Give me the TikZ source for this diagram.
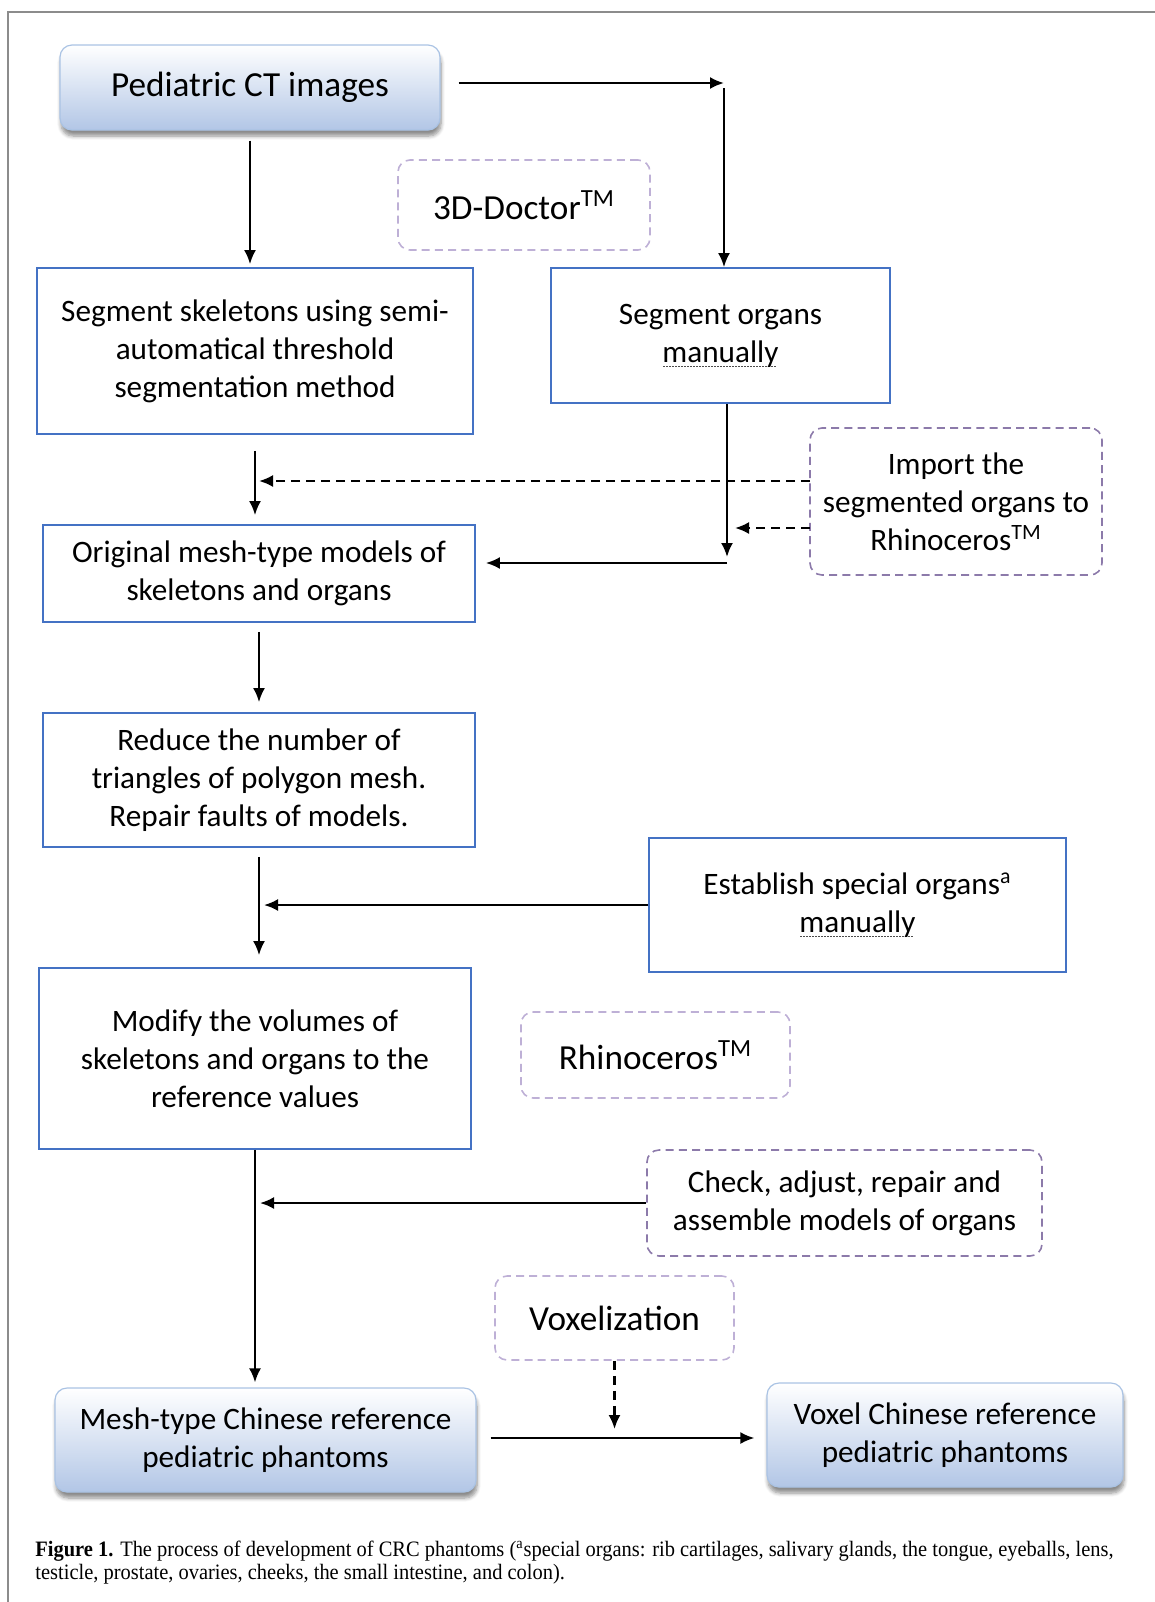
\documentclass[tikz,border=0pt]{standalone}
\usepackage{fontspec}
\setmainfont{Carlito}
\newfontfamily\capfont[FakeStretch=0.93]{Liberation Serif}
\usetikzlibrary{arrows.meta,positioning,shadows.blur}
\definecolor{boxblue}{RGB}{68,114,196}
\definecolor{gradblue}{RGB}{178,198,230}
\definecolor{gradedge}{RGB}{170,195,228}
\definecolor{dashlight}{RGB}{190,176,214}
\definecolor{dashdark}{RGB}{140,122,170}
\definecolor{framegray}{RGB}{140,140,140}
\newcommand{\tm}{\textsuperscript{TM}}
\newcommand{\dotunder}[1]{\leavevmode\setbox0\hbox{#1}%
  \rlap{\raisebox{-2.6pt}{\color{black!70}\hbox to \wd0{\leaders\hbox to 1.5pt{\hss\rule{0.75pt}{0.5pt}\hss}\hfill}}}\box0}
\newcommand{\manual}{\dotunder{manually}}

\begin{document}
\begin{tikzpicture}[x=0.5pt,y=-0.5pt,>={Latex[length=7pt,width=6pt]},
every node/.style={inner sep=0pt,align=center},
txt/.style={font=\fontsize{15.6}{19}\selectfont},
big/.style={font=\fontsize{17.6}{21}\selectfont},
stepbox/.style={txt,draw=boxblue,line width=0.9pt},
endbox/.style={draw=gradedge,line width=0.6pt,rounded corners=6pt,top color=white,bottom color=gradblue,
  blur shadow={shadow xshift=0.5pt,shadow yshift=-3pt,shadow blur steps=6,shadow opacity=45}},
tool/.style={draw=dashlight,dash pattern=on 4pt off 2.6pt,line width=0.8pt,rounded corners=6pt},
arr/.style={->,line width=1.1pt},
darr/.style={->,line width=1.1pt,dash pattern=on 4.5pt off 3pt}]
\useasboundingbox (0,0) rectangle (1155,1602);
\draw[framegray,line width=1pt] (8,1602) -- (8,12) -- (1155,12);

% boxes
\node[endbox,big,minimum width=190pt,minimum height=42.5pt] (ped) at (250,87.5) {Pediatric CT images};
\node[tool,big,minimum width=126pt,minimum height=45pt] (doc) at (524,205) {3D-Doctor\tm};
\node[stepbox,minimum width=218pt,minimum height=83pt] (skel) at (255,351) {Segment skeletons using semi-\\automatical threshold\\segmentation method};
\node[stepbox,minimum width=169.5pt,minimum height=67.5pt] (organ) at (720.5,335.5) {Segment organs\\\manual};
\node[tool,txt,draw=dashdark,minimum width=146pt,minimum height=73.5pt] (imp) at (956,501.5) {Import the\\segmented organs to\\Rhinoceros\tm};
\node[stepbox,minimum width=216pt,minimum height=48.5pt] (orig) at (259,573.5) {Original mesh-type models of\\skeletons and organs};
\node[stepbox,minimum width=216pt,minimum height=67pt] (red) at (259,780) {Reduce the number of\\triangles of polygon mesh.\\Repair faults of models.};
\node[stepbox,minimum width=208.5pt,minimum height=67pt] (est) at (857.5,905) {Establish special organs\textsuperscript{a}\\\manual};
\node[stepbox,minimum width=216pt,minimum height=90.5pt] (mod) at (255,1058.5) {Modify the volumes of\\skeletons and organs to the\\reference values};
\node[tool,big,minimum width=134.5pt,minimum height=43pt] (rhino) at (655.5,1055) {Rhinoceros\tm};
\node[tool,txt,draw=dashdark,minimum width=197.5pt,minimum height=53pt] (chk) at (844.5,1203) {Check, adjust, repair and\\assemble models of organs};
\node[tool,big,minimum width=119.5pt,minimum height=42pt] (voxz) at (614.5,1318) {Voxelization};
\node[endbox,txt,minimum width=210.5pt,minimum height=52pt] (mesh) at (265.5,1440) {Mesh-type Chinese reference\\pediatric phantoms};
\node[endbox,txt,minimum width=178pt,minimum height=52pt] (vox) at (945,1435) {Voxel Chinese reference\\pediatric phantoms};

% connectors
\coordinate (c1) at (724,83);
\coordinate (j1) at (727,563);
\coordinate (j2) at (611,1438);
\coordinate (d1) at (810,481);
\coordinate (d2) at (810,528);
\draw[arr,shorten <=9pt] (ped.east |- c1) -- (c1);
\draw[arr,shorten <=2.5pt] (c1) -- (c1 |- organ.north);
\draw[arr,shorten <=5pt,shorten >=1.5pt] (ped.south) -- (ped.south |- skel.north);
\draw[arr,shorten >=3pt] (organ.south -| j1) -- (j1);
\draw[arr,shorten >=5pt] (j1) -- (j1 -| orig.east);
\draw[darr,shorten >=2pt] (d1) -- (d1 -| skel.south);
\draw[darr,shorten >=4pt] (d2) -- (d2 -| j1);
\draw[arr,shorten <=8pt,shorten >=4.5pt] (skel.south) -- (skel.south |- orig.north);
\draw[arr,shorten <=4.5pt,shorten >=5pt] (orig.south) -- (orig.south |- red.north);
\draw[arr,shorten <=4.5pt,shorten >=6pt] (red.south) -- (red.south |- mod.north);
\draw[arr,shorten >=2.5pt] (est.west) -- (est.west -| red.south);
\draw[arr,shorten >=2.5pt] (chk.west) -- (chk.west -| mod.south);
\draw[arr,shorten >=2.5pt] (mod.south) -- (mod.south |- mesh.north);
\draw[arr,shorten <=7pt,shorten >=6pt] (mesh.east |- j2) -- (vox.west |- j2);
\draw[darr,shorten >=4.5pt] (voxz.south) -- (voxz.south |- j2);

% caption
\node[anchor=north west,align=left,font=\capfont\fontsize{11}{11.5}\selectfont] (cap) at (35,1541)
{\textbf{Figure 1.} The process of development of CRC phantoms (\textsuperscript{a}special organs: rib cartilages, salivary glands, the tongue, eyeballs, lens,\\testicle, prostate, ovaries, cheeks, the small intestine, and colon).};
\end{tikzpicture}
\end{document}
